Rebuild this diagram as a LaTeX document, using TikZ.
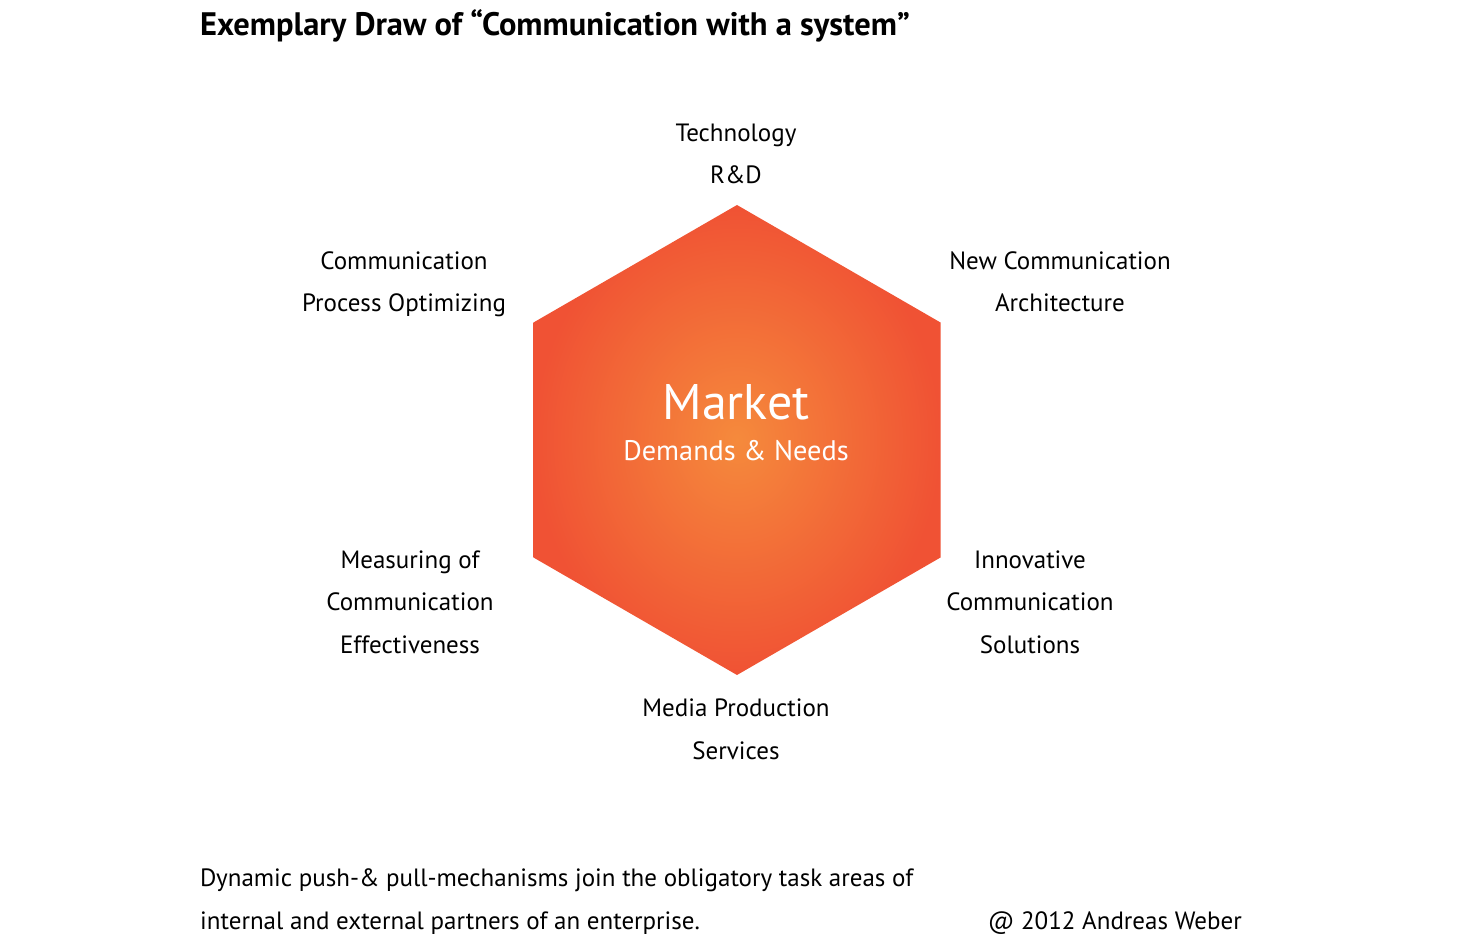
\documentclass[tikz,border=0pt]{standalone}
\usepackage{fontspec}
\setmainfont{PT Sans}
\usetikzlibrary{shapes.geometric}
\definecolor{hexin}{RGB}{245,138,60}
\definecolor{hexout}{RGB}{240,82,52}
\tikzset{
  lbl/.style={align=center, anchor=base, font=\fontsize{25}{42.5}\selectfont, inner sep=0pt},
  foot/.style={align=left, anchor=base west, font=\fontsize{25}{42.8}\selectfont, inner sep=0pt},
}
\begin{document}
\begin{tikzpicture}[x=1pt,y=-1pt]
\useasboundingbox (0,0) rectangle (1460,944);
\node[regular polygon, regular polygon sides=6, shape border rotate=30,
      minimum size=470pt, inner sep=0pt, draw=none,
      inner color=hexin, outer color=hexout] (hex) at (737,440) {};
\node[anchor=base west, inner sep=0pt, font=\fontsize{32.5}{36}\selectfont\bfseries] (title) at (200,36) {Exemplary Draw of “Communication with a system”};
\node[text=white, inner sep=0pt, font=\fontsize{50}{54}\selectfont, anchor=base] (market) at (736,419) {Market};
\node[text=white, inner sep=0pt, font=\fontsize{28.3}{32}\selectfont, anchor=base] (needs) at (736,460) {Demands \& Needs};
\node[lbl] (tech) at (736,184) {Technology\\R\&D};
\node[lbl] (newc) at (1060,312) {New Communication\\Architecture};
\node[lbl] (proc) at (404,312) {Communication\\Process Optimizing};
\node[lbl] (meas) at (410,653) {Measuring of\\Communication\\Effectiveness};
\node[lbl] (innov) at (1030,653) {Innovative\\Communication\\Solutions};
\node[lbl] (media) at (736,759) {Media Production\\Services};
\node[foot] (desc) at (200,929) {Dynamic push-\& pull-mechanisms join the obligatory task areas of\\internal and external partners of an enterprise.};
\node[anchor=base east, inner sep=0pt, font=\fontsize{25}{42.5}\selectfont] (copy) at (1242,929) {@ 2012 Andreas Weber};
\end{tikzpicture}
\end{document}
